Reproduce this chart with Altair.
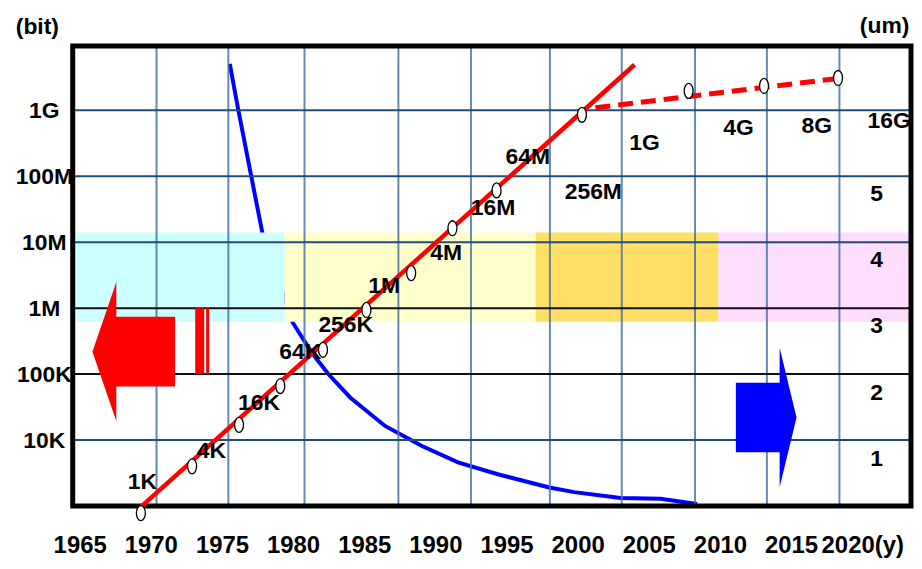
import altair as alt
import pandas as pd

FONT = "Liberation Sans, Arial, sans-serif"
FW = "bold"

# ---------------- data ----------------
# DRAM generations: markers (year, bits)
marker_year = [1969.3, 1972.9, 1976.2, 1979.1, 1982.1, 1985.15, 1988.3, 1991.2, 1994.3,
               2000.3, 2007.8, 2013.1, 2018.3]
marker_bits = [7.8e2, 4.0e3, 1.7e4, 6.6e4, 2.34e5, 9.4e5, 3.4e6, 1.63e7, 6.1e7,
               8.55e8, 1.97e9, 2.34e9, 3.09e9]

# generation labels
label_text = ["1K", "4K", "16K", "64K", "256K", "1M", "4M", "16M", "64M",
              "256M", "1G", "4G", "8G", "16G"]
label_year = [1969.4, 1974.25, 1977.6, 1980.5, 1983.7, 1986.4, 1990.75, 1994.05, 1996.5,
              2001.1, 2004.7, 2011.3, 2016.8, 2021.9]
label_bits = [2.3e3, 6.8e3, 3.6e4, 2.19e5, 5.6e5, 2.17e6, 6.8e6, 3.26e7, 1.99e8,
              5.7e7, 3.24e8, 5.4e8, 5.8e8, 6.9e8]

# red trend lines
trend_year = [1969.3, 2004.0]
trend_bits = [9.7e2, 4.9e9]
forecast_year = [2001.25, 2018.0]
forecast_bits = [1.09e9, 2.99e9]

# feature size curve (um)
size_year = [1975.55, 1976.08, 1977.06, 1977.83, 1979.98, 1981.33, 1982.49, 1984.01,
             1986.46, 1989.02, 1991.59, 1994.39, 1998.01, 1999.76, 2003.02, 2005.82, 2008.39]
size_um = [6.96, 6.34, 5.26, 4.42, 3.05, 2.59, 2.27, 1.92,
           1.49, 1.19, 0.94, 0.76, 0.56, 0.49, 0.40, 0.39, 0.31]

# shaded era bands
band_id = ["b1", "b2", "b3", "b4"]
band_start = [1964.51, 1979.4, 1997.05, 2009.9]
band_end = [1979.4, 1997.05, 2009.9, 2023.43]
band_low = [6.2e5, 6.2e5, 6.2e5, 6.2e5]
band_high = [1.4e7, 1.4e7, 1.4e7, 1.4e7]
band_colors = ["#CCFFFF", "#FFFFCC", "#FFDF66", "#FFDDFF"]

# grid
grid_years = [1970.4, 1975.45, 1980.8, 1987.4, 1992.5, 1998.05, 2003.1, 2008.25, 2013.3, 2018.4]
grid_bits_blue = [1e4, 1e7, 1e8, 1e9]
grid_bits_black = [1e5, 1e6]

# axes
x_ticks = [1965, 1970, 1975, 1980, 1985, 1990, 1995, 2000, 2005, 2010, 2015, 2020]
y_ticks = [1e4, 1e5, 1e6, 1e7, 1e8, 1e9]
y_tick_labels = ["10K", "100K", "1M", "10M", "100M", "1G"]
um_ticks = [1, 2, 3, 4, 5]

# arrows
left_arrow_year = [1968.8]
left_arrow_bits = [2.19e5]
right_arrow_year = [2013.25]
right_arrow_bits = [2.2e4]
bar_start = [1973.12, 1973.89]
bar_end = [1973.75, 1974.1]
bar_low = [1e5, 1e5]
bar_high = [1e6, 1e6]

# ---------------- chart ----------------
W, H = 842, 462
xscale = alt.Scale(domain=[1964.51, 2023.43], nice=False, zero=False)
yscale = alt.Scale(type="log", domain=[1000, 9.42e9], nice=False)
umscale = alt.Scale(domain=[0.28, 7.23], nice=False, zero=False)

label_expr = "".join(
    f"datum.value == {v:.0f} ? '{t}' : " for v, t in zip(y_ticks, y_tick_labels)) + "''"

x_axis = alt.Axis(values=x_ticks, title=None, domain=False, ticks=False, tickSize=0,
                  labelPadding=28, labelBaseline="top", labelFont=FONT, labelFontSize=24,
                  labelFontWeight=FW,
                  labelColor="black", grid=False, labelFlush=False, labelOverlap=False,
                  labelExpr="datum.value == 2020 ? '2020(y)' : '' + datum.value")
y_axis = alt.Axis(values=y_ticks, labelExpr=label_expr, domain=False, ticks=False, tickSize=0,
                  labelPadding=29, labelAlign="center", labelBaseline="middle",
                  labelFont=FONT, labelFontSize=23, labelFontWeight=FW,
                  labelColor="black", grid=False,
                  labelOverlap=False, labelFlush=False, zindex=1,
                  title="(bit)", titleAngle=0, titleX=-36, titleY=-20, titleAlign="center",
                  titleBaseline="middle", titleFont=FONT, titleFontSize=23,
                  titleFontWeight=FW, titleColor="black")
um_axis = alt.Axis(orient="right", values=um_ticks, offset=-35, domain=False, ticks=False,
                   tickSize=0, labelPadding=0, labelAlign="center", labelBaseline="middle",
                   labelFont=FONT, labelFontSize=23, labelFontWeight=FW,
                   labelColor="black", grid=False,
                   labelOverlap=False, labelFlush=False, zindex=1,
                   title="(um)", titleAngle=0, titleX=8, titleY=-21, titleAlign="center",
                   titleBaseline="middle", titleFont=FONT, titleFontSize=23,
                   titleFontWeight=FW, titleColor="black")


def X(f):
    return alt.X(f, type="quantitative", scale=xscale, axis=x_axis)


def Y(f):
    return alt.Y(f, type="quantitative", scale=yscale, axis=y_axis)


size_df = pd.DataFrame({"year": size_year, "um": size_um})
blue = alt.Chart(size_df).mark_line(color="#0000FF", strokeWidth=4).encode(
    x=X("year"), y=alt.Y("um:Q", scale=umscale, axis=um_axis))

band_df = pd.DataFrame({"id": band_id, "x0": band_start, "x1": band_end,
                        "y0": band_low, "y1": band_high})
bands = alt.Chart(band_df).mark_rect(opacity=1).encode(
    x=X("x0"), x2="x1", y=Y("y0"), y2="y1",
    color=alt.Color("id:N", scale=alt.Scale(domain=band_id, range=band_colors), legend=None))

gv = alt.Chart(pd.DataFrame({"g": grid_years})).mark_rule(
    color="#4A74A0", strokeWidth=2, opacity=0.85).encode(x=X("g"))
gh1 = alt.Chart(pd.DataFrame({"g": grid_bits_blue})).mark_rule(
    color="#1F4E79", strokeWidth=2).encode(y=Y("g"))
gh2 = alt.Chart(pd.DataFrame({"g": grid_bits_black})).mark_rule(
    color="#111111", strokeWidth=2).encode(y=Y("g"))

frame = alt.Chart(alt.Data(values=[{}])).mark_rect(
    filled=False, stroke="black", strokeWidth=5).encode(
    x=alt.value(0), x2=alt.value("width"), y=alt.value(0), y2=alt.value("height"))

bar_df = pd.DataFrame({"x0": bar_start, "x1": bar_end, "y0": bar_low, "y1": bar_high})
bars = alt.Chart(bar_df).mark_rect(color="#FF0000").encode(
    x=X("x0"), x2="x1", y=Y("y0"), y2="y1")

trend = alt.Chart(pd.DataFrame({"year": trend_year, "bits": trend_bits})).mark_line(
    color="#FF0000", strokeWidth=4.5).encode(x=X("year"), y=Y("bits"))
forecast = alt.Chart(pd.DataFrame({"year": forecast_year, "bits": forecast_bits})).mark_line(
    color="#FF0000", strokeWidth=5, strokeDash=[15, 8]).encode(x=X("year"), y=Y("bits"))

ELLIPSE = ("M 0 -1 C 0.331 -1 0.6 -0.552 0.6 0 C 0.6 0.552 0.331 1 0 1 "
           "C -0.331 1 -0.6 0.552 -0.6 0 C -0.6 -0.552 -0.331 -1 0 -1 Z")
markers = alt.Chart(pd.DataFrame({"year": marker_year, "bits": marker_bits})).mark_point(
    shape=ELLIPSE, size=225, filled=True, fill="white", stroke="black", strokeWidth=1.3,
    opacity=1).encode(x=X("year"), y=Y("bits"))

LEFT_ARROW = ("M -0.593 0 L -0.25 -1 L -0.25 -0.5 L 0.593 -0.5 L 0.593 0.5 "
              "L -0.25 0.5 L -0.25 1 Z")
RIGHT_ARROW = ("M 0.436 0 L 0.193 -1 L 0.193 -0.5 L -0.435 -0.5 L -0.435 0.5 "
               "L 0.193 0.5 L 0.193 1 Z")
larrow = alt.Chart(pd.DataFrame({"year": left_arrow_year, "bits": left_arrow_bits})).mark_point(
    shape=LEFT_ARROW, size=19600, filled=True, color="#FF0000", opacity=1, strokeWidth=0).encode(
    x=X("year"), y=Y("bits"))
rarrow = alt.Chart(pd.DataFrame({"year": right_arrow_year, "bits": right_arrow_bits})).mark_point(
    shape=RIGHT_ARROW, size=19600, filled=True, color="#0000FF", opacity=1, strokeWidth=0).encode(
    x=X("year"), y=Y("bits"))

labels = alt.Chart(pd.DataFrame({"t": label_text, "year": label_year, "bits": label_bits})).mark_text(
    font=FONT, fontSize=23, fontWeight=FW, color="black", align="center", baseline="middle").encode(
    x=X("year"), y=Y("bits"), text="t:N")

bit_group = alt.layer(bands, gv, gh1, gh2, frame, bars, trend, forecast, markers,
                      larrow, rarrow, labels)

chart = alt.layer(blue, bit_group).resolve_scale(y="independent").properties(
    width=W, height=H, autosize="none",
    padding={"left": 65, "top": 37, "right": 3, "bottom": 54},
    background="white",
).configure_view(stroke=None)

chart.save("out.html", embed_options={"renderer": "svg", "actions": False})
